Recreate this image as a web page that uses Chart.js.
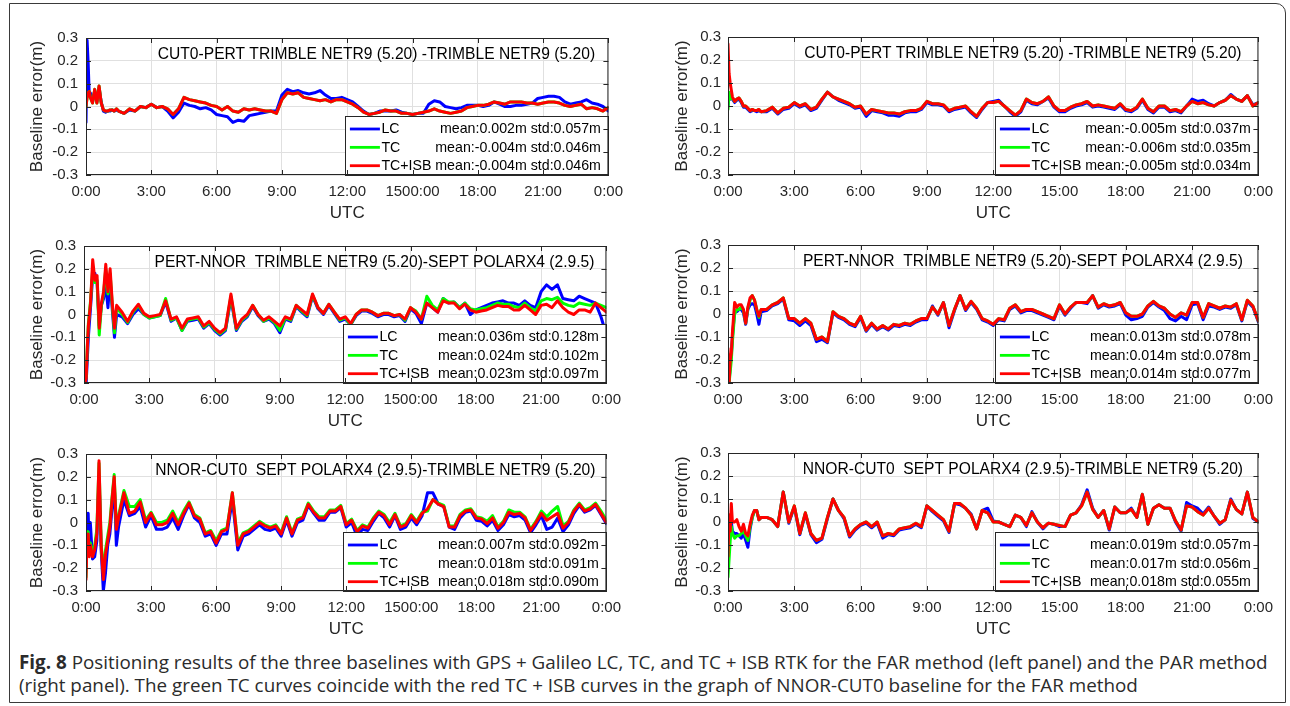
<!DOCTYPE html>
<html><head><meta charset="utf-8">
<script src="https://cdn.jsdelivr.net/npm/chart.js@4.4.1/dist/chart.umd.min.js"></script>
<style>
html,body{margin:0;padding:0;background:#fff;}
body{width:1290px;height:706px;position:relative;overflow:hidden;}
.frame{position:absolute;left:9px;top:3px;width:1277px;height:700px;border:1.3px solid #3a3a3a;border-radius:0 10px 0 0;box-sizing:border-box;}
.cv{position:absolute;}
.cap{position:absolute;left:19px;font-family:"Open Sans",sans-serif;font-size:16px;color:#2b2b2b;white-space:nowrap;line-height:1;}
</style></head>
<body>
<div class="frame"></div>
<div class="cap" id="cap1" style="top:653px;"><b>Fig. 8</b> Positioning results of the three baselines with GPS + Galileo LC, TC, and TC + ISB RTK for the FAR method (left panel) and the PAR method</div>
<div class="cap" id="cap2" style="top:676px;">(right panel). The green TC curves coincide with the red TC + ISB curves in the graph of NNOR-CUT0 baseline for the FAR method</div>
<script>
// ---------- shared x grid (hours UTC) ----------
const hours = [0,0.05,0.1,0.15,0.2,0.3,0.4,0.5,0.6,0.7,0.8,0.9,1.0,1.1,1.2,1.3,1.4,1.5,
 1.75,
 2,2.25,2.5,2.75, 3,3.25,3.5,3.75, 4,4.25,4.5,4.75, 5,5.25,5.5,5.75,
 6,6.25,6.5,6.75, 7,7.25,7.5,7.75, 8,8.25,8.5,8.75, 9,9.25,9.5,9.75,
 10,10.25,10.5,10.75, 11,11.25,11.5,11.75, 12,12.25,12.5,12.75, 13,13.25,13.5,13.75,
 14,14.25,14.5,14.75, 15,15.25,15.5,15.75, 16,16.25,16.5,16.75, 17,17.25,17.5,17.75,
 18,18.25,18.5,18.75, 19,19.25,19.5,19.75, 20,20.25,20.5,20.75, 21,21.25,21.5,21.75,
 22,22.25,22.5,22.75, 23,23.25,23.5,23.75,
 24];

const xTickLabelsFAR = ['0:00','3:00','6:00','9:00','12:00','1500:00','18:00','21:00','0:00'];
const xTickLabelsPAR = ['0:00','3:00','6:00','9:00','12:00','15:00','18:00','21:00','0:00'];
const yTickLabels = ['-0.3','-0.2','-0.1','0','0.1','0.2','0.3'];
const seriesNames = ['LC','TC','TC+ISB'];

const titles = [
 'CUT0-PERT TRIMBLE NETR9 (5.20) -TRIMBLE NETR9 (5.20)',
 'CUT0-PERT TRIMBLE NETR9 (5.20) -TRIMBLE NETR9 (5.20)',
 'PERT-NNOR  TRIMBLE NETR9 (5.20)-SEPT POLARX4 (2.9.5)',
 'PERT-NNOR  TRIMBLE NETR9 (5.20)-SEPT POLARX4 (2.9.5)',
 'NNOR-CUT0  SEPT POLARX4 (2.9.5)-TRIMBLE NETR9 (5.20)',
 'NNOR-CUT0  SEPT POLARX4 (2.9.5)-TRIMBLE NETR9 (5.20)'
];
const p1Stats = ['mean:0.002m std:0.057m','mean:-0.004m std:0.046m','mean:-0.004m std:0.046m'];
const p2Stats = ['mean:-0.005m std:0.037m','mean:-0.006m std:0.035m','mean:-0.005m std:0.034m'];
const p3Stats = ['mean:0.036m std:0.128m','mean:0.024m std:0.102m','mean:0.023m std:0.097m'];
const p4Stats = ['mean:0.013m std:0.078m','mean:0.014m std:0.078m','mean:0.014m std:0.077m'];
const p5Stats = ['mean:0.007m std:0.092m','mean:0.018m std:0.091m','mean:0.018m std:0.090m'];
const p6Stats = ['mean:0.019m std:0.057m','mean:0.017m std:0.056m','mean:0.018m std:0.055m'];

// ---------- Panel 1: CUT0-PERT, FAR ----------
const p1LC = [-0.07,0.29,0.19,0.05,0.06,0.02,0.07,0.02,0.08,0.02,-0.02,-0.025,-0.02,-0.02,-0.015,-0.02,-0.015,-0.02,
 -0.03,
 -0.015,-0.02,0.0,-0.005, 0.01,-0.005,0.0,-0.02, -0.05,-0.025,0.015,0.005, 0.0,-0.01,-0.005,-0.015,
 -0.035,-0.04,-0.045,-0.07, -0.06,-0.065,-0.04,-0.035, -0.03,-0.025,-0.02,-0.02, 0.05,0.075,0.065,0.07,
 0.06,0.055,0.06,0.07, 0.05,0.035,0.035,0.04, 0.03,0.02,0.0,-0.02, -0.035,-0.03,-0.02,-0.02,
 -0.02,-0.015,-0.025,-0.03, -0.035,-0.03,-0.03,0.01, 0.025,0.02,0.0,-0.005, -0.01,-0.005,0.005,0.005,
 0.005,0.0,0.005,0.02, 0.01,0.0,0.0,0.005, 0.005,0.01,0.015,0.035, 0.04,0.045,0.045,0.04,
 0.02,0.01,0.015,0.02, 0.03,0.015,0.01,0.0,
 -0.02];
const p1TC = [0.0,0.04,0.06,0.065,0.04,0.015,0.075,0.015,0.09,0.015,-0.015,-0.02,-0.02,-0.015,-0.015,-0.02,-0.01,-0.02,
 -0.03,
 -0.01,-0.02,0.0,-0.005, 0.01,-0.005,0.0,-0.01, -0.035,-0.01,0.04,0.03, 0.025,0.02,0.015,0.005,
 0.0,-0.015,0.0,-0.02, -0.025,-0.01,-0.015,-0.01, -0.015,-0.02,-0.02,-0.03, 0.03,0.06,0.055,0.06,
 0.04,0.035,0.03,0.025, 0.03,0.02,0.03,0.03, 0.02,0.01,-0.005,-0.025, -0.035,-0.03,-0.025,-0.015,
 -0.02,-0.02,-0.03,-0.03, -0.035,-0.03,-0.025,-0.02, -0.01,-0.02,-0.025,-0.03, -0.025,-0.02,-0.005,0.0,
 0.005,0.005,0.01,0.02, 0.015,0.01,0.02,0.02, 0.02,0.015,0.015,0.01, 0.015,0.02,0.02,0.015,
 0.005,0.0,0.005,0.01, -0.01,-0.005,-0.01,-0.02,
 -0.005];
const p1ISB = [0.0,0.04,0.06,0.065,0.04,0.015,0.075,0.015,0.09,0.015,-0.015,-0.02,-0.02,-0.015,-0.015,-0.02,-0.01,-0.02,
 -0.03,
 -0.01,-0.02,0.0,-0.005, 0.01,-0.005,0.0,-0.01, -0.035,-0.01,0.04,0.03, 0.025,0.02,0.015,0.005,
 0.0,-0.015,0.0,-0.02, -0.025,-0.01,-0.015,-0.01, -0.015,-0.02,-0.02,-0.03, 0.03,0.06,0.055,0.06,
 0.04,0.035,0.03,0.025, 0.03,0.02,0.03,0.03, 0.02,0.01,-0.005,-0.025, -0.035,-0.03,-0.025,-0.015,
 -0.02,-0.02,-0.03,-0.03, -0.035,-0.03,-0.025,-0.02, -0.01,-0.02,-0.025,-0.03, -0.025,-0.02,-0.005,0.0,
 0.005,0.005,0.01,0.02, 0.015,0.01,0.02,0.02, 0.02,0.015,0.015,0.01, 0.015,0.02,0.02,0.015,
 0.005,0.0,0.005,0.01, -0.01,-0.005,-0.01,-0.02,
 -0.005];

// ---------- Panel 2: CUT0-PERT, PAR ----------
const p2LC = [0.0,0.05,0.03,0.035,0.03,0.015,0.025,0.03,0.015,-0.005,-0.005,-0.015,-0.025,-0.02,-0.02,-0.025,-0.02,-0.025,
 -0.025,
 -0.01,-0.035,-0.015,-0.01, 0.01,-0.005,0.005,-0.02, -0.01,0.025,0.06,0.04, 0.025,0.015,0.005,-0.01,
 -0.005,-0.045,-0.02,-0.025, -0.03,-0.04,-0.04,-0.045, -0.03,-0.025,-0.025,-0.015, 0.015,0.005,0.005,0.0,
 -0.025,-0.015,-0.01,-0.005, -0.03,-0.05,-0.015,0.015, 0.02,0.025,0.0,-0.025, -0.045,-0.025,0.025,0.01,
 0.005,0.02,0.035,-0.005, -0.025,-0.025,-0.01,0.0, 0.005,0.015,-0.005,0.0, -0.005,-0.01,-0.015,0.005,
 -0.02,-0.025,-0.01,0.025, -0.015,-0.03,-0.005,-0.005, -0.025,-0.02,-0.03,0.0, 0.03,0.02,0.025,0.01,
 0.0,0.015,0.025,0.05, 0.03,0.02,0.045,0.005,
 0.015];
const p2TC = [-0.015,0.06,0.03,0.04,0.035,0.02,0.03,0.035,0.02,0.0,0.0,-0.01,-0.02,-0.015,-0.02,-0.02,-0.015,-0.025,
 -0.02,
 -0.005,-0.03,-0.01,-0.005, 0.015,0.0,0.01,-0.015, -0.005,0.03,0.06,0.04, 0.03,0.02,0.01,-0.005,
 0.0,-0.035,-0.015,-0.02, -0.025,-0.03,-0.03,-0.035, -0.025,-0.02,-0.02,-0.01, 0.02,0.01,0.01,0.005,
 -0.02,-0.01,-0.005,0.0, -0.025,-0.045,-0.01,0.015, 0.015,0.02,0.0,-0.02, -0.04,-0.02,0.03,0.015,
 0.01,0.02,0.04,0.0, -0.02,-0.02,-0.005,0.005, 0.01,0.02,0.0,0.005, 0.0,-0.005,-0.01,0.01,
 -0.015,-0.02,-0.005,0.03, -0.01,-0.025,0.0,0.0, -0.02,-0.015,-0.025,0.0, 0.02,0.01,0.015,0.005,
 0.0,0.015,0.025,0.045, 0.03,0.02,0.045,0.0,
 0.015];
const p2ISB = [0.27,0.14,0.1,0.07,0.04,0.02,0.03,0.035,0.02,0.0,0.0,-0.01,-0.02,-0.015,-0.02,-0.02,-0.015,-0.025,
 -0.02,
 -0.005,-0.03,-0.01,-0.005, 0.015,0.0,0.01,-0.015, -0.005,0.03,0.06,0.04, 0.03,0.02,0.01,-0.005,
 0.0,-0.035,-0.015,-0.02, -0.025,-0.03,-0.03,-0.035, -0.025,-0.02,-0.02,-0.01, 0.02,0.01,0.01,0.005,
 -0.02,-0.01,-0.005,0.0, -0.025,-0.045,-0.01,0.015, 0.015,0.02,0.0,-0.02, -0.04,-0.02,0.03,0.015,
 0.01,0.02,0.04,0.0, -0.02,-0.02,-0.005,0.005, 0.01,0.02,0.0,0.005, 0.0,-0.005,-0.01,0.01,
 -0.015,-0.02,-0.005,0.03, -0.01,-0.025,0.0,0.0, -0.02,-0.015,-0.025,0.0, 0.02,0.01,0.015,0.005,
 0.0,0.015,0.025,0.045, 0.03,0.02,0.045,0.0,
 0.015];

// ---------- Panel 3: PERT-NNOR, FAR ----------
const p3LC = [-0.3,-0.3,-0.3,-0.2,-0.1,0.03,0.17,0.18,0.14,-0.05,0.04,0.07,0.13,0.03,0.15,0.02,-0.1,0.0,
 -0.01,
 -0.04,0.0,0.025,0.0, -0.015,-0.01,-0.005,0.055, -0.03,-0.015,-0.07,-0.03, -0.025,-0.02,-0.06,-0.04,
 -0.07,-0.09,-0.07,0.07, -0.07,-0.03,-0.01,0.035, -0.005,-0.03,-0.02,-0.04, -0.08,-0.02,-0.03,0.035,
 0.01,-0.01,0.08,0.025, 0.0,0.04,0.005,-0.03, -0.02,-0.045,-0.005,0.015, 0.015,0.005,-0.01,0.0,
 0.0,-0.01,-0.005,-0.03, 0.025,0.005,-0.04,0.05, 0.03,0.01,0.07,0.05, 0.055,0.03,0.05,0.0,
 0.02,0.03,0.04,0.05, 0.055,0.06,0.05,0.05, 0.04,0.06,0.04,0.03, 0.1,0.13,0.11,0.13,
 0.07,0.065,0.06,0.08, 0.07,0.06,0.05,-0.01,
 -0.09];
const p3TC = [-0.3,-0.3,-0.27,-0.14,-0.04,0.06,0.2,0.14,0.15,-0.09,0.04,0.09,0.2,0.09,0.18,0.04,-0.08,0.03,
 0.0,
 -0.035,0.01,0.04,0.0, -0.015,-0.01,-0.005,0.07, -0.025,-0.015,-0.07,-0.025, -0.02,-0.015,-0.055,-0.035,
 -0.065,-0.085,-0.065,0.08, -0.065,-0.025,-0.005,0.04, 0.0,-0.03,-0.015,-0.035, -0.07,-0.015,-0.025,0.04,
 0.015,-0.005,0.085,0.03, 0.005,0.045,0.01,-0.025, -0.015,-0.045,0.0,0.02, 0.02,0.01,-0.005,0.005,
 0.005,-0.005,0.0,-0.025, 0.03,0.015,-0.02,0.08, 0.04,0.02,0.07,0.055, 0.055,0.03,0.05,0.025,
 0.02,0.025,0.03,0.04, 0.05,0.045,0.045,0.035, 0.03,0.05,0.03,0.015, 0.06,0.07,0.065,0.075,
 0.05,0.04,0.035,0.05, 0.045,0.04,0.05,0.04,
 0.03];
const p3ISB = [-0.3,-0.3,-0.28,-0.15,-0.05,0.05,0.24,0.15,0.17,-0.06,0.05,0.1,0.22,0.1,0.2,0.05,-0.06,0.04,
 0.01,
 -0.03,0.015,0.045,0.005, -0.01,-0.005,0.0,0.06, -0.02,-0.01,-0.06,-0.02, -0.015,-0.01,-0.05,-0.03,
 -0.06,-0.08,-0.06,0.09, -0.06,-0.02,0.0,0.04, 0.0,-0.025,-0.01,-0.03, -0.05,-0.01,-0.02,0.04,
 0.02,0.0,0.09,0.03, 0.005,0.045,0.01,-0.02, -0.01,-0.04,0.0,0.02, 0.02,0.01,-0.005,0.005,
 0.005,-0.005,0.0,-0.02, 0.03,0.01,-0.02,0.05, 0.03,0.01,0.06,0.05, 0.05,0.025,0.045,0.02,
 0.01,0.015,0.02,0.03, 0.04,0.035,0.035,0.02, 0.02,0.04,0.02,0.0, 0.04,0.045,0.03,0.06,
 0.03,0.01,0.0,0.02, 0.02,0.01,0.05,0.03,
 0.01];

// ---------- Panel 4: PERT-NNOR, PAR ----------
const p4LC = [-0.18,-0.3,-0.22,-0.18,-0.1,0.01,0.01,0.02,0.02,0.005,-0.045,0.02,0.04,0.045,0.04,0.0,-0.045,0.01,
 0.015,
 0.035,0.045,0.065,-0.025, -0.03,-0.05,-0.03,-0.05, -0.12,-0.11,-0.125,0.005, -0.015,-0.025,-0.045,-0.055,
 -0.015,-0.075,-0.045,-0.07, -0.055,-0.07,-0.05,-0.055, -0.045,-0.05,-0.035,-0.025, -0.025,0.035,-0.005,0.05,
 -0.06,0.015,0.08,0.015, 0.05,0.02,-0.025,-0.035, -0.05,-0.025,-0.03,0.02, 0.035,0.005,0.015,0.015,
 0.005,-0.005,-0.015,-0.025, 0.035,-0.005,0.025,0.05, 0.05,0.045,0.08,0.025, 0.04,0.03,0.035,0.045,
 -0.005,-0.025,-0.02,-0.01, 0.03,0.05,0.03,0.015, -0.02,-0.03,-0.01,-0.025, 0.04,0.045,-0.025,0.035,
 0.03,0.02,0.03,0.025, 0.04,-0.03,0.055,0.03,
 -0.035];
const p4TC = [-0.2,-0.3,-0.25,-0.2,-0.12,0.0,0.02,0.02,0.03,0.015,-0.04,0.025,0.06,0.08,0.06,0.02,-0.015,0.02,
 0.02,
 0.04,0.05,0.07,-0.02, -0.02,-0.04,-0.02,-0.04, -0.11,-0.1,-0.12,0.01, -0.01,-0.02,-0.04,-0.05,
 -0.01,-0.07,-0.04,-0.065, -0.05,-0.065,-0.045,-0.05, -0.04,-0.045,-0.03,-0.02, -0.02,0.03,0.0,0.05,
 -0.05,0.02,0.08,0.02, 0.055,0.025,-0.02,-0.03, -0.045,-0.02,-0.025,0.025, 0.04,0.01,0.02,0.02,
 0.01,0.0,-0.01,-0.02, 0.04,0.0,0.03,0.05, 0.05,0.05,0.08,0.03, 0.045,0.035,0.04,0.05,
 0.005,-0.01,-0.01,0.0, 0.035,0.055,0.035,0.025, 0.0,-0.015,0.005,-0.005, 0.05,0.05,-0.015,0.045,
 0.035,0.025,0.035,0.03, 0.045,-0.025,0.06,0.035,
 -0.03];
const p4ISB = [-0.15,-0.3,-0.2,-0.17,-0.08,0.05,0.03,0.04,0.04,0.02,-0.04,0.03,0.07,0.08,0.06,0.02,-0.01,0.02,
 0.02,
 0.04,0.05,0.07,-0.02, -0.02,-0.04,-0.02,-0.04, -0.11,-0.1,-0.12,0.01, -0.01,-0.02,-0.04,-0.05,
 -0.01,-0.07,-0.04,-0.065, -0.05,-0.065,-0.045,-0.05, -0.04,-0.045,-0.03,-0.02, -0.02,0.03,0.0,0.05,
 -0.05,0.02,0.08,0.02, 0.055,0.025,-0.02,-0.03, -0.045,-0.02,-0.025,0.025, 0.04,0.01,0.02,0.02,
 0.01,0.0,-0.01,-0.02, 0.04,0.0,0.03,0.05, 0.05,0.05,0.08,0.03, 0.045,0.035,0.04,0.05,
 0.005,-0.01,-0.01,0.0, 0.035,0.055,0.035,0.025, 0.0,-0.015,0.005,-0.005, 0.05,0.05,-0.015,0.045,
 0.035,0.025,0.035,0.03, 0.045,-0.025,0.06,0.035,
 -0.03];

// ---------- Panel 5: NNOR-CUT0, FAR ----------
const p5LC = [-0.2,-0.05,0.04,-0.1,0.0,-0.16,-0.15,-0.08,0.2,-0.12,-0.3,-0.22,-0.1,-0.05,0.06,0.18,-0.1,-0.02,
 0.1,
 0.03,0.04,0.07,-0.02, 0.03,-0.03,-0.03,-0.02, 0.02,-0.03,0.03,0.08, 0.02,0.0,-0.06,-0.05,
 -0.1,-0.05,-0.05,0.1, -0.12,-0.06,-0.05,-0.03, -0.01,-0.03,-0.035,-0.025, -0.06,0.01,-0.06,0.0,
 0.01,0.075,0.04,0.01, 0.01,0.045,0.045,0.065, -0.02,0.0,-0.06,-0.03, -0.035,0.005,0.04,0.02,
 -0.02,0.03,-0.03,-0.02, 0.02,-0.01,0.03,0.13, 0.13,0.08,0.07,-0.02, -0.03,0.02,0.045,0.05,
 0.01,0.005,-0.015,0.01, -0.035,-0.01,0.035,0.025, 0.03,0.01,-0.045,-0.01, 0.03,-0.03,-0.02,0.02,
 -0.04,-0.01,0.04,0.075, 0.045,0.055,0.075,0.035,
 -0.005];
const p5TC = [-0.24,-0.07,-0.04,-0.13,-0.09,-0.13,-0.1,-0.03,0.26,-0.09,-0.22,-0.12,-0.06,0.0,0.11,0.21,-0.02,0.03,
 0.14,
 0.07,0.07,0.1,0.01, 0.045,0.0,0.0,0.01, 0.05,0.0,0.05,0.09, 0.035,0.02,-0.045,-0.035,
 -0.08,-0.035,-0.025,0.13, -0.09,-0.045,-0.035,-0.015, 0.005,-0.01,-0.02,-0.01, -0.045,0.025,-0.045,0.015,
 0.025,0.085,0.05,0.025, 0.025,0.055,0.055,0.075, -0.005,0.015,-0.035,-0.01, -0.02,0.02,0.05,0.035,
 0.0,0.04,-0.015,-0.005, 0.035,0.005,0.045,0.05, 0.1,0.085,0.075,-0.015, -0.015,0.035,0.055,0.06,
 0.025,0.02,0.005,0.03, -0.02,0.005,0.055,0.045, 0.045,0.025,-0.03,0.005, 0.05,0.025,0.05,0.07,
 -0.015,0.005,0.055,0.085, 0.055,0.065,0.085,0.05,
 0.01];
const p5ISB = [-0.25,-0.08,-0.05,-0.15,-0.1,-0.15,-0.12,-0.05,0.27,-0.1,-0.25,-0.14,-0.08,-0.02,0.1,0.2,-0.03,0.02,
 0.13,
 0.04,0.05,0.09,0.0, 0.04,-0.01,-0.01,0.0, 0.04,-0.01,0.04,0.085, 0.03,0.015,-0.05,-0.04,
 -0.09,-0.04,-0.03,0.13, -0.1,-0.05,-0.04,-0.02, 0.0,-0.015,-0.025,-0.015, -0.05,0.02,-0.05,0.01,
 0.02,0.08,0.045,0.02, 0.02,0.05,0.05,0.07, -0.01,0.01,-0.04,-0.015, -0.025,0.015,0.045,0.03,
 -0.01,0.035,-0.02,-0.01, 0.03,0.0,0.04,0.06, 0.1,0.08,0.07,-0.02, -0.02,0.03,0.05,0.055,
 0.02,0.015,-0.005,0.02, -0.025,0.0,0.045,0.035, 0.04,0.02,-0.035,0.0, 0.04,0.01,0.025,0.04,
 -0.025,0.0,0.05,0.08, 0.05,0.06,0.08,0.04,
 0.0];

// ---------- Panel 6: NNOR-CUT0, PAR ----------
const p6LC = [-0.16,-0.1,-0.05,0.0,-0.04,-0.05,-0.05,-0.06,-0.07,-0.05,-0.08,-0.11,-0.03,0.02,0.05,0.05,0.01,0.02,
 0.02,
 0.01,-0.02,0.13,-0.005, 0.065,-0.055,0.035,-0.055, -0.09,-0.075,0.015,0.1, 0.05,0.015,-0.065,-0.035,
 -0.015,-0.005,-0.025,-0.005, -0.07,-0.055,-0.06,-0.035, -0.03,-0.025,-0.01,-0.025, 0.07,0.045,0.025,0.005,
 -0.045,0.08,0.075,0.06, 0.035,-0.03,0.05,0.06, 0.005,0.0,-0.01,-0.02, 0.03,0.02,-0.02,0.045,
 0.0,-0.03,-0.005,-0.01, -0.02,-0.02,0.03,0.04, 0.075,0.14,0.06,0.02, 0.05,-0.035,0.065,0.04,
 0.04,0.06,0.02,0.12, -0.01,0.06,0.075,0.06, 0.06,0.0,-0.04,0.085, 0.07,0.06,0.035,0.065,
 0.025,-0.01,0.01,0.1, 0.055,0.035,0.13,0.015,
 0.0];
const p6TC = [-0.24,-0.16,-0.08,-0.02,-0.05,-0.07,-0.06,-0.06,-0.05,-0.04,-0.06,-0.08,-0.02,0.02,0.05,0.05,0.01,0.02,
 0.02,
 0.01,-0.02,0.13,0.0, 0.07,-0.05,0.04,-0.05, -0.08,-0.07,0.02,0.1, 0.05,0.02,-0.06,-0.03,
 -0.01,0.0,-0.02,0.0, -0.06,-0.05,-0.055,-0.03, -0.025,-0.02,-0.005,-0.02, 0.07,0.05,0.03,0.01,
 -0.04,0.08,0.08,0.06, 0.03,-0.03,0.05,0.04, 0.0,0.0,-0.01,-0.02, 0.03,0.02,-0.015,0.04,
 0.0,-0.025,-0.005,-0.01, -0.015,-0.02,0.03,0.04, 0.07,0.13,0.055,0.02, 0.05,-0.03,0.065,0.04,
 0.04,0.055,0.02,0.12, -0.01,0.06,0.075,0.06, 0.06,0.005,-0.035,0.07, 0.065,0.045,0.03,0.06,
 0.025,-0.005,0.01,0.095, 0.055,0.035,0.13,0.02,
 0.0];
const p6ISB = [-0.15,0.03,-0.04,0.08,0.0,0.0,0.01,-0.02,-0.04,-0.01,-0.05,-0.06,-0.01,0.03,0.05,0.05,0.01,0.02,
 0.02,
 0.01,-0.02,0.13,0.0, 0.07,-0.05,0.04,-0.05, -0.08,-0.07,0.02,0.1, 0.05,0.02,-0.06,-0.03,
 -0.01,0.0,-0.02,0.0, -0.06,-0.05,-0.055,-0.03, -0.025,-0.02,-0.005,-0.02, 0.07,0.05,0.03,0.01,
 -0.04,0.08,0.08,0.06, 0.03,-0.03,0.05,0.04, 0.0,0.0,-0.01,-0.02, 0.03,0.02,-0.015,0.04,
 0.0,-0.025,-0.005,-0.01, -0.015,-0.02,0.03,0.04, 0.07,0.13,0.055,0.02, 0.05,-0.03,0.065,0.04,
 0.04,0.055,0.02,0.12, -0.01,0.06,0.075,0.06, 0.06,0.005,-0.035,0.07, 0.065,0.045,0.03,0.06,
 0.025,-0.005,0.01,0.095, 0.055,0.035,0.13,0.02,
 0.0];

// ---------- layout (positions only) ----------
const FONT = '"Liberation Sans", Arial, Helvetica, sans-serif';
Chart.defaults.font.family = FONT;
const panels = [
 {lc:p1LC, tc:p1TC, isb:p1ISB, stats:p1Stats, title:titles[0], xl:xTickLabelsFAR, col:0, L:86, R:611, T:33, B:175},
 {lc:p2LC, tc:p2TC, isb:p2ISB, stats:p2Stats, title:titles[1], xl:xTickLabelsPAR, col:1, L:728, R:1261, T:33, B:175},
 {lc:p3LC, tc:p3TC, isb:p3ISB, stats:p3Stats, title:titles[2], xl:xTickLabelsFAR, col:0, L:84, R:609, T:241, B:383},
 {lc:p4LC, tc:p4TC, isb:p4ISB, stats:p4Stats, title:titles[3], xl:xTickLabelsPAR, col:1, L:728, R:1261, T:241, B:383},
 {lc:p5LC, tc:p5TC, isb:p5ISB, stats:p5Stats, title:titles[4], xl:xTickLabelsFAR, col:0, L:86, R:609, T:449, B:591},
 {lc:p6LC, tc:p6TC, isb:p6ISB, stats:p6Stats, title:titles[5], xl:xTickLabelsPAR, col:1, L:728, R:1261, T:449, B:591}
];
const PAD_T = 12, PAD_R = 20, XAX_H = 49;
const AXC = '#262626';
const colors = ['#0000ff','#00ff00','#ff0000'];

const decorPlugin = {
  id:'decor',
  afterDatasetsDraw(chart){
    const p = chart.options.plugins.decor;
    const a = chart.chartArea, ctx = chart.ctx;
    const xs = chart.scales.x, ys = chart.scales.y;
    ctx.save();
    ctx.fillStyle = '#000';
    ctx.font = '15.6px ' + FONT;
    ctx.textAlign = 'center'; ctx.textBaseline = 'middle';
    ctx.fillText(p.title, a.left + 0.556*(a.right-a.left), a.top + 16.5);
    const lw = 263, lh = 59;
    const lx = a.right - lw, ly = a.bottom - lh;
    ctx.fillStyle = '#fff';
    ctx.fillRect(lx, ly, lw, lh);
    ctx.strokeStyle = AXC; ctx.lineWidth = 1;
    ctx.strokeRect(Math.round(lx)+0.5, Math.round(ly)+0.5, lw, lh);
    ctx.font = '14.2px ' + FONT;
    for (let i=0;i<3;i++){
      const yy = ly + 13 + i*18.35;
      ctx.strokeStyle = colors[i]; ctx.lineWidth = 2.8;
      ctx.beginPath(); ctx.moveTo(lx+4.5, yy); ctx.lineTo(lx+34.5, yy); ctx.stroke();
      ctx.fillStyle = '#000';
      ctx.textAlign = 'left'; ctx.fillText(seriesNames[i], lx+36, yy+0.5);
      ctx.textAlign = 'right'; ctx.fillText(p.stats[i], a.right-7.5, yy+0.5);
    }
    ctx.strokeStyle = AXC; ctx.lineWidth = 1;
    ctx.strokeRect(a.left+0.5, a.top+0.5, a.right-a.left-1, a.bottom-a.top-1);
    ctx.beginPath();
    xs.ticks.forEach(t=>{
      const x = Math.round(xs.getPixelForValue(t.value))+0.5;
      ctx.moveTo(x, a.bottom); ctx.lineTo(x, a.bottom-5);
      ctx.moveTo(x, a.top); ctx.lineTo(x, a.top+5);
    });
    ys.ticks.forEach(t=>{
      const y = Math.round(ys.getPixelForValue(t.value))+0.5;
      ctx.moveTo(a.left, y); ctx.lineTo(a.left+5, y);
      ctx.moveTo(a.right, y); ctx.lineTo(a.right-5, y);
    });
    ctx.stroke();
    ctx.restore();
  }
};

function xy(arr){ return hours.map((h,i)=>({x:h, y:arr[i]})); }

panels.forEach(p=>{
  const cx = p.col===0 ? 0 : 642;
  const cy = p.T - PAD_T;
  const cw = p.R + PAD_R - cx;
  const ch = PAD_T + (p.B - p.T) + XAX_H;
  const c = document.createElement('canvas');
  c.width = cw; c.height = ch; c.className='cv';
  c.style.left = cx+'px'; c.style.top = cy+'px';
  c.style.width = cw+'px'; c.style.height = ch+'px';
  document.body.appendChild(c);
  const yw = p.L - cx;
  new Chart(c, {
    type:'line',
    data:{datasets:[
      {label:'TC+ISB', data:xy(p.isb), borderColor:colors[2], order:0},
      {label:'TC', data:xy(p.tc), borderColor:colors[1], order:1},
      {label:'LC', data:xy(p.lc), borderColor:colors[0], order:2}
    ]},
    options:{
      responsive:false, animation:false, devicePixelRatio:1,
      layout:{padding:{top:PAD_T, right:PAD_R, left:0, bottom:0}},
      elements:{point:{radius:0}, line:{borderWidth:3, tension:0, borderJoinStyle:'round', borderCapStyle:'round', fill:false}},
      plugins:{legend:{display:false}, tooltip:{enabled:false}, decor:{title:p.title, stats:p.stats}},
      scales:{
        x:{type:'linear', min:0, max:24,
           ticks:{stepSize:3, autoSkip:false, maxRotation:0, padding:8, color:AXC, font:{size:15},
                  callback:(v,i)=>p.xl[i]},
           grid:{color:'#e0e0e0', lineWidth:1, drawTicks:false},
           border:{display:false},
           title:{display:true, text:'UTC', color:AXC, font:{size:17}, padding:0},
           afterFit:s=>{ s.height = XAX_H; }},
        y:{type:'linear', min:-0.3, max:0.3,
           ticks:{stepSize:0.1, padding: p.col===0 ? 8 : 7, color:AXC, font:{size:15},
                  callback:(v,i)=>yTickLabels[i]},
           grid:{color:'#e0e0e0', lineWidth:1, drawTicks:false},
           border:{display:false},
           title:{display:true, text:'Baseline error(m)', color:AXC, font:{size:17}, padding:{top: p.col===0 ? 27.5 : 30, bottom:0}},
           afterFit:s=>{ s.width = yw; }}
      }
    },
    plugins:[decorPlugin]
  });
});

(function(){
  const c1 = document.getElementById('cap1'), c2 = document.getElementById('cap2');
  const w = c1.getBoundingClientRect().width;
  const fs = 16 * 1249 / w;
  c1.style.fontSize = fs+'px'; c2.style.fontSize = fs+'px';
})();
</script>
</body></html>
